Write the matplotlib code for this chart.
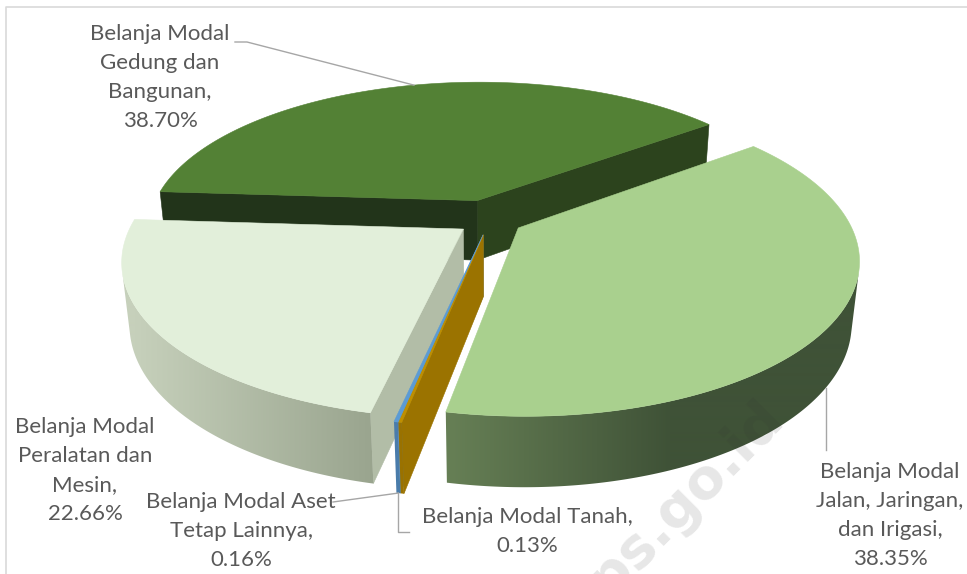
import numpy as np
import matplotlib.pyplot as plt
from matplotlib.colors import to_rgb
from matplotlib.patches import Polygon

# data, clockwise from the first slice
categories = ["Jalan, Jaringan, dan Irigasi", "Tanah", "Aset Tetap Lainnya",
              "Peralatan dan Mesin", "Gedung dan Bangunan"]
shares = [38.35, 0.13, 0.16, 22.66, 38.70]
label_lines = [["Belanja Modal", "Jalan, Jaringan,", "dan Irigasi,"],
               ["Belanja Modal Tanah,"],
               ["Belanja Modal Aset", "Tetap Lainnya,"],
               ["Belanja Modal", "Peralatan dan", "Mesin,"],
               ["Belanja Modal", "Gedung dan", "Bangunan,"]]

# styling
top_colors = ["#a9d08e", "#bf8f00", "#5b9bd5", "#e2efda", "#538135"]
side_light = ["#667f55", "#9a7200", "#4a7cab", "#c6d0bb", "#2c431d"]
side_dark = ["#3f5237", "#9a7200", "#4a7cab", "#99a48e", "#2c431d"]
grad_x = [(450, 670), (0, 1), (0, 1), (135, 375), (0, 1)]
start_face = ["#3f5237", "#9b7300", "#4f86b8", "#b2bda7", "#22341a"]
end_face = ["#3f5237", "#9b7300", "#4f86b8", "#b2bda7", "#2c431d"]
explode = [0.1, 0.1, 0.1, 0.1, 0.14]
label_pos = [(890, 472), (527, 517), (241, 502), (85, 427), (160, 34)]

START = 53.0
ELEV = np.radians(26.7)
DIST = 4.6
SCALE = 330.0
HEIGHT = 0.21
CX, CY = 490.0, 220.0
LINE_H = 29
TEXT_C = "#595959"
LEADER_C = "#a6a6a6"
W, H = 967, 574

cam = DIST * np.array([0.0, -np.cos(ELEV), np.sin(ELEV)])


def project(X, Y, Z):
    t = DIST + Y * np.cos(ELEV) - Z * np.sin(ELEV)
    u = X * DIST / t
    v = (Y * np.sin(ELEV) + Z * np.cos(ELEV)) * DIST / t
    return CX + SCALE * u, CY - SCALE * v


def rim(ox, oy, ang, z):
    a = np.radians(ang)
    return np.array([ox + np.sin(a), oy + np.cos(a), z])


def to_xy(pts):
    pts = np.asarray(pts)
    x, y = project(pts[:, 0], pts[:, 1], pts[:, 2])
    return np.column_stack([x, y])


def gradient(c1, c2, g0, g1):
    t = np.clip((np.arange(W) - g0) / (g1 - g0), 0, 1)[:, None]
    a, b = np.array(to_rgb(c1)), np.array(to_rgb(c2))
    return (a + (b - a) * t)[None, :, :]


fig = plt.figure(figsize=(W / 100, H / 100), dpi=100)
ax = fig.add_axes([0, 0, 1, 1])
ax.set_xlim(0, W)
ax.set_ylim(H, 0)
ax.axis("off")

# chart frame
ax.plot([6, 6, W], [H, 7, 7], color="#d9d9d9", lw=1.2, zorder=0)

bounds = np.concatenate([[0], np.cumsum(shares)]) / 100.0 * 360.0 + START
sides = []   # (distance, polygon, colour or gradient image)
tops = []
origins = []
for i in range(len(shares)):
    a0, a1 = bounds[i], bounds[i + 1]
    mid = np.radians((a0 + a1) / 2)
    ox, oy = explode[i] * np.sin(mid), explode[i] * np.cos(mid)
    origins.append((ox, oy))
    centre_top = np.array([ox, oy, 0.0])
    centre_bot = np.array([ox, oy, -HEIGHT])

    # outer wall: keep the part that faces the camera, as one shape
    angs = np.linspace(a0, a1, max(3, int((a1 - a0) * 2)) + 1)
    seen = []
    for b in angs:
        p = rim(ox, oy, b, -HEIGHT / 2)
        nrm = np.array([np.sin(np.radians(b)), np.cos(np.radians(b)), 0.0])
        if nrm @ (cam - p) > 0:
            seen.append(b)
    if len(seen) >= 2:
        up = [rim(ox, oy, b, 0) for b in seen]
        down = [rim(ox, oy, b, -HEIGHT) for b in seen[::-1]]
        pts = up + down
        dist = np.mean([np.linalg.norm(cam - p) for p in pts])
        img = gradient(side_light[i], side_dark[i], *grad_x[i])
        sides.append((dist, to_xy(pts), img))

    # the two cut faces
    for ang, nrm, col in [(a0, (-np.cos(np.radians(a0)), np.sin(np.radians(a0))), start_face[i]),
                          (a1, (np.cos(np.radians(a1)), -np.sin(np.radians(a1))), end_face[i])]:
        quad = [centre_top, rim(ox, oy, ang, 0), rim(ox, oy, ang, -HEIGHT), centre_bot]
        c = np.mean(quad, axis=0)
        if np.array([nrm[0], nrm[1], 0.0]) @ (cam - c) <= 0:
            continue
        sides.append((np.linalg.norm(cam - c), to_xy(quad), col))

    arc = [rim(ox, oy, b, 0) for b in np.linspace(a0, a1, max(3, int(a1 - a0) * 2))]
    tops.append((to_xy([centre_top] + arc), top_colors[i]))

sides.sort(key=lambda s: -s[0])
for k, (_, xy, fill) in enumerate(sides):
    z = 2 + k * 0.01
    if isinstance(fill, str):
        ax.add_patch(Polygon(xy, closed=True, facecolor=fill, edgecolor=fill, lw=0.4, zorder=z))
    else:
        clip = Polygon(xy, closed=True, transform=ax.transData)
        im = ax.imshow(fill, extent=(0, W, H, 0), aspect="auto", interpolation="bilinear", zorder=z)
        im.set_clip_path(clip)
for xy, col in tops:
    ax.add_patch(Polygon(xy, closed=True, facecolor=col, edgecolor=col, lw=0.4, zorder=3))
ax.set_xlim(0, W)
ax.set_ylim(H, 0)

# data labels
for i, lines in enumerate(label_lines):
    x0, y0 = label_pos[i]
    for k, s in enumerate(lines + [f"{shares[i]:.2f}%"]):
        ax.text(x0, y0 + k * LINE_H, s, ha="center", va="center", fontsize=16,
                family="Lato", color=TEXT_C, zorder=5)


def anchor(i, frac, z):
    a0, a1 = bounds[i], bounds[i + 1]
    ox, oy = origins[i]
    return project(*rim(ox, oy, a0 + frac * (a1 - a0), z))


# leader lines
gx, gy = anchor(4, 0.52, 0.0)
ax.plot([235, 247, gx], [42, 42, gy], color=LEADER_C, lw=1, zorder=4)
jx, jy = anchor(0, 0.51, -HEIGHT)
ax.plot([jx, jx], [jy, 450], color=LEADER_C, lw=1, zorder=4)
sx, sy = anchor(2, 0.5, -HEIGHT)
ax.plot([333, sx], [502, sy], color=LEADER_C, lw=1, zorder=4)
ax.plot([409, sx, sx], [532, 532, sy], color=LEADER_C, lw=1, zorder=4)

# watermark
ax.text(672, 512, "bps.go.id", rotation=45, ha="center", va="center", fontsize=40,
        fontweight="bold", family="DejaVu Sans", color="#333333", alpha=0.12, zorder=6)

fig.savefig("out.png", dpi=100)
